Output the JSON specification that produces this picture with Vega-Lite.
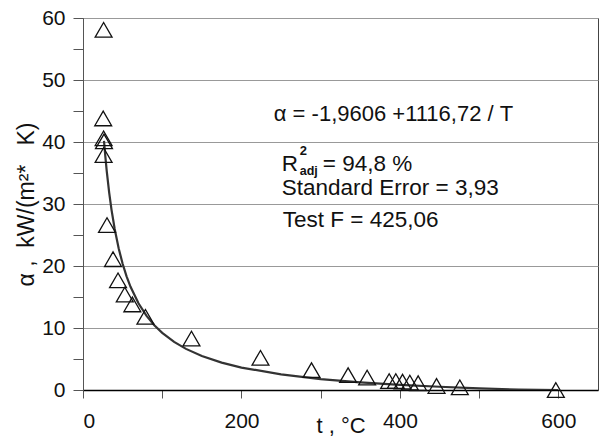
{
  "$schema": "https://vega.github.io/schema/vega-lite/v6.json",
  "width": 515,
  "height": 372,
  "autosize": {"type": "none"},
  "padding": {"left": 83, "top": 18, "right": 3, "bottom": 47},
  "background": "white",
  "config": {
    "font": "Liberation Sans",
    "view": {"stroke": "#444", "strokeWidth": 1}
  },
  "datasets": {
    "points": [
      {"t": 26, "a": 58.1},
      {"t": 25.5, "a": 43.8},
      {"t": 26, "a": 40.6},
      {"t": 26.5, "a": 40.1},
      {"t": 26, "a": 37.9},
      {"t": 30.3, "a": 26.6},
      {"t": 37.9, "a": 21.1},
      {"t": 44.2, "a": 17.7},
      {"t": 52.7, "a": 15.4},
      {"t": 62.3, "a": 13.8},
      {"t": 78.8, "a": 11.8},
      {"t": 136.9, "a": 8.3},
      {"t": 224, "a": 5.2},
      {"t": 288.4, "a": 3.2},
      {"t": 334.6, "a": 2.4},
      {"t": 358.6, "a": 2.0},
      {"t": 386.4, "a": 1.45},
      {"t": 394.8, "a": 1.45},
      {"t": 403.3, "a": 1.35},
      {"t": 412.5, "a": 1.2},
      {"t": 423, "a": 1.1},
      {"t": 446.2, "a": 0.65},
      {"t": 475.6, "a": 0.43},
      {"t": 596.8, "a": 0.0}
    ],
    "curve": [
      {"t": 26.5, "a": 40.18},
      {"t": 28, "a": 37.92},
      {"t": 30, "a": 35.26},
      {"t": 33, "a": 31.88},
      {"t": 36, "a": 29.06},
      {"t": 40, "a": 25.96},
      {"t": 45, "a": 22.86},
      {"t": 50, "a": 20.37},
      {"t": 55, "a": 18.34},
      {"t": 60, "a": 16.65},
      {"t": 70, "a": 13.99},
      {"t": 80, "a": 12.0},
      {"t": 90, "a": 10.45},
      {"t": 100, "a": 9.21},
      {"t": 115, "a": 7.75},
      {"t": 130, "a": 6.63},
      {"t": 150, "a": 5.48},
      {"t": 175, "a": 4.42},
      {"t": 200, "a": 3.62},
      {"t": 250, "a": 2.51},
      {"t": 300, "a": 1.76},
      {"t": 350, "a": 1.23},
      {"t": 400, "a": 0.83},
      {"t": 450, "a": 0.52},
      {"t": 500, "a": 0.27},
      {"t": 550, "a": 0.07},
      {"t": 600, "a": 0.0}
    ],
    "alphaText": [
      {"t": 240.8, "a": 43.39, "label": "α = -1,9606 +1116,72 / T"}
    ],
    "mainText": [
      {"t": 250.9, "a": 35.32, "label": "R"},
      {"t": 302.7, "a": 35.32, "label": "= 94,8 %"},
      {"t": 250.9, "a": 31.45, "label": "Standard Error = 3,93"},
      {"t": 252.1, "a": 26.3, "label": "Test F = 425,06"}
    ],
    "supText": [
      {"t": 273.6, "a": 37.9, "label": "2"}
    ],
    "subText": [
      {"t": 273.6, "a": 34.75, "label": "adj"}
    ]
  },
  "encoding": {
    "x": {
      "field": "t",
      "type": "quantitative",
      "scale": {"domain": [0, 650], "nice": false, "zero": false},
      "axis": {
        "title": "t , °C",
        "titleFont": "Liberation Sans",
        "titleFontSize": 22,
        "titleFontWeight": "normal",
        "titleColor": "#111",
        "titleY": 42,
        "titleBaseline": "alphabetic",
        "values": [0, 100, 200, 300, 400, 500, 600],
        "labelExpr": "datum.value % 200 === 0 ? datum.label : ''",
        "labelFontSize": 21,
        "labelColor": "#111",
        "labelPadding": 12,
        "tickSize": 8,
        "tickColor": "#555",
        "domainColor": "#000",
        "domainWidth": 1.5,
        "grid": false
      }
    },
    "y": {
      "field": "a",
      "type": "quantitative",
      "scale": {"domain": [0, 60], "nice": false, "zero": false},
      "axis": {
        "title": "α\u00a0,\u00a0\u00a0kW/(m²*\u00a0\u00a0\u00a0K)",
        "titleFont": "Liberation Sans",
        "titleFontSize": 23,
        "titleFontWeight": "normal",
        "titleColor": "#111",
        "titlePadding": 3,
        "values": [0, 5, 10, 15, 20, 25, 30, 35, 40, 45, 50, 55, 60],
        "labelExpr": "datum.value % 10 === 0 ? datum.label : ''",
        "labelFontSize": 21,
        "labelColor": "#111",
        "labelPadding": 8,
        "tickSize": 10,
        "tickColor": "#555",
        "domainColor": "#555",
        "grid": true,
        "gridColor": "#999",
        "gridWidth": 1,
        "gridOpacity": {"condition": {"test": "datum.value % 10 === 0", "value": 1}, "value": 0}
      }
    }
  },
  "layer": [
    {
      "data": {"name": "curve"},
      "mark": {"type": "line", "color": "#333", "strokeWidth": 2.2, "clip": true}
    },
    {
      "data": {"name": "points"},
      "mark": {"type": "point", "shape": "triangle-up", "filled": false, "stroke": "#111", "strokeWidth": 1.3, "size": 285, "opacity": 1}
    },
    {
      "data": {"name": "alphaText"},
      "mark": {"type": "text", "align": "left", "baseline": "alphabetic", "fontSize": 22, "font": "Liberation Sans", "color": "#111"},
      "encoding": {"text": {"field": "label", "type": "nominal"}}
    },
    {
      "data": {"name": "mainText"},
      "mark": {"type": "text", "align": "left", "baseline": "alphabetic", "fontSize": 22.5, "font": "Liberation Sans", "color": "#111"},
      "encoding": {"text": {"field": "label", "type": "nominal"}}
    },
    {
      "data": {"name": "supText"},
      "mark": {"type": "text", "align": "left", "baseline": "alphabetic", "fontSize": 13, "fontWeight": "bold", "font": "Liberation Sans", "color": "#111"},
      "encoding": {"text": {"field": "label", "type": "nominal"}}
    },
    {
      "data": {"name": "subText"},
      "mark": {"type": "text", "align": "left", "baseline": "alphabetic", "fontSize": 12.5, "fontWeight": "bold", "font": "Liberation Sans", "color": "#111"},
      "encoding": {"text": {"field": "label", "type": "nominal"}}
    }
  ]
}
